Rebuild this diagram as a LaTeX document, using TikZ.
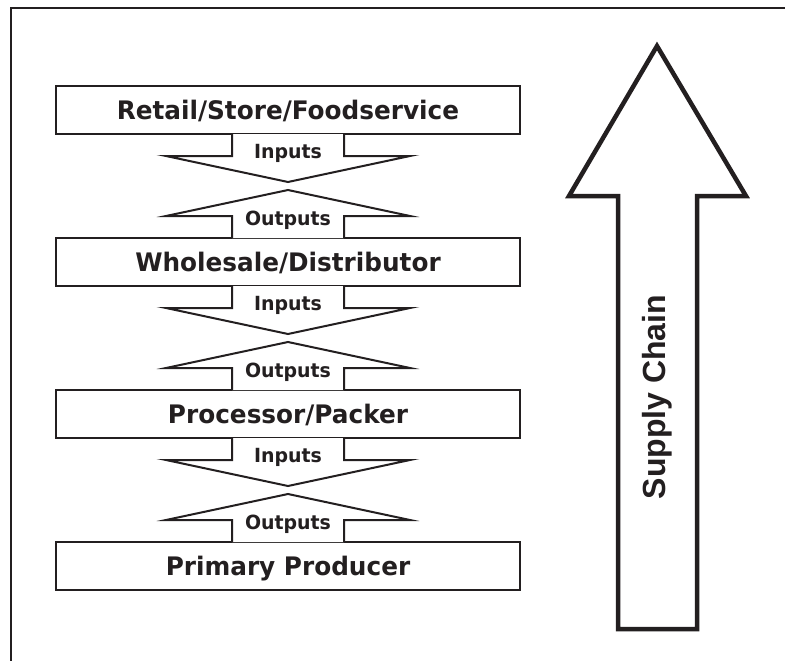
\documentclass[tikz,border=0pt]{standalone}
\usepackage{fontspec}
\newfontfamily\stagefont[FakeStretch=0.97]{DejaVu Sans}
\newfontfamily\chainfont{Liberation Sans}
\definecolor{ink}{HTML}{231F20}
\tikzset{
  stage/.style={shape=rectangle,draw=ink,line width=2pt,fill=white,
    minimum width=464pt,minimum height=48pt,inner sep=0pt,
    text height=18.5pt,text depth=0pt,text=ink,
    font=\stagefont\bfseries\fontsize{25.5}{30}\selectfont},
  flow/.style={draw=ink,line width=2pt,fill=white,line join=miter},
  flowlabel/.style={anchor=base,inner sep=0pt,text=ink,
    font=\stagefont\bfseries\fontsize{19.5}{22}\selectfont}
}
\begin{document}
\begin{tikzpicture}[x=1pt,y=-1pt]
            \useasboundingbox (0,0) rectangle (785,661);
            \draw[ink,line width=2.5pt] (11,661) -- (11,8) -- (785,8);

            \node[stage] (R) at (288,110) {Retail/Store/Foodservice};
            \node[stage] (W) at (288,262) {Wholesale/Distributor};
            \node[stage] (P) at (288,414) {Processor/Packer};
            \node[stage] (F) at (288,566) {Primary Producer};

            % inputs go down, outputs come up
            \foreach \up/\down in {R/W,W/P,P/F} {
              \draw[flow,shift={(\up.south)}] (-56,-1) -- (-56,21) -- (-122,21) -- (0,47) -- (122,21) -- (56,21) -- (56,-1);
              \draw[flow,shift={(\down.north)}] (-56,1) -- (-56,-21) -- (-122,-21) -- (0,-47) -- (122,-21) -- (56,-21) -- (56,1);
              \node[flowlabel] (in\up) at ([yshift=-23pt]\up.south) {Inputs};
              \node[flowlabel] (out\down) at ([yshift=11.5pt]\down.north) {Outputs};
            }

            \draw[ink,line width=4.5pt,line join=miter,fill=white] (618,629) -- (618,196) -- (569,196) -- (657,46) -- (746,196) -- (697,196) -- (697,629) -- cycle;
            \node[rotate=90,text=ink,font=\chainfont\bfseries\fontsize{32}{36}\selectfont] (chain) at (657,397) {Supply Chain};
\end{tikzpicture}
\end{document}
